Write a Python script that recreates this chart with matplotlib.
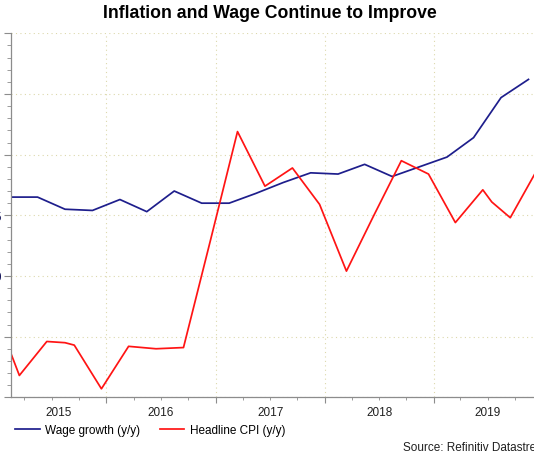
import matplotlib
matplotlib.use("Agg")
import matplotlib.pyplot as plt
import matplotlib.dates as mdates
import matplotlib.ticker as mticker
from matplotlib.lines import Line2D
import pandas as pd

plt.rcParams['font.family'] = ['Liberation Sans', 'DejaVu Sans']

# quarterly wage growth (y/y), mid-month
wage_months = ["2015-02", "2015-05", "2015-08", "2015-11",
               "2016-02", "2016-05", "2016-08", "2016-11",
               "2017-02", "2017-05", "2017-08", "2017-11",
               "2018-02", "2018-05", "2018-08", "2018-11",
               "2019-02", "2019-05", "2019-08", "2019-11"]
wage = [1.65, 1.65, 1.55, 1.54,
        1.63, 1.53, 1.70, 1.60,
        1.60, 1.68, 1.77, 1.85,
        1.84, 1.92, 1.82, 1.90,
        1.98, 2.14, 2.47, 2.62]

# headline CPI (y/y)
cpi_months = ["2015-02", "2015-03", "2015-06", "2015-08", "2015-09", "2015-12",
              "2016-03", "2016-06", "2016-09", "2016-12",
              "2017-03", "2017-06", "2017-09", "2017-12",
              "2018-03", "2018-06", "2018-09", "2018-12",
              "2019-03", "2019-06", "2019-07", "2019-09", "2019-12"]
cpi = [0.36, 0.18, 0.46, 0.45, 0.43, 0.07,
       0.42, 0.40, 0.41, 1.30,
       2.19, 1.74, 1.89, 1.59,
       1.04, 1.50, 1.95, 1.84,
       1.44, 1.71, 1.61, 1.48, 1.88]

years = [2015, 2016, 2017, 2018, 2019]

wage_dates = pd.to_datetime(wage_months) + pd.Timedelta(days=14)
cpi_dates = pd.to_datetime(cpi_months) + pd.Timedelta(days=14)

W, H = 534, 460
fig = plt.figure(figsize=(W / 100, H / 100), dpi=100)

xmin = wage_dates[0]
xmax = pd.Timestamp("2019-12-31")
px_per_day = 109 / 365.25
width_px = (xmax - xmin).days * px_per_day
ax = fig.add_axes([11 / W, (H - 398.3) / H, width_px / W, 364 / H])

blue = "#1e1e8c"
red = "#ff1414"
ax.plot(wage_dates, wage, color=blue, lw=1.25)
ax.plot(cpi_dates, cpi, color=red, lw=1.25)

ax.set_xlim(xmin, xmax)
ax.set_ylim(0, 3)

for s in ["top", "right"]:
    ax.spines[s].set_visible(False)
for s in ["left", "bottom"]:
    ax.spines[s].set_color("#8c8c8c")
    ax.spines[s].set_linewidth(0.9)

ax.yaxis.set_major_locator(mticker.MultipleLocator(0.5))
ax.yaxis.set_minor_locator(mticker.MultipleLocator(0.1))
ax.yaxis.set_major_formatter(mticker.FormatStrFormatter("%.1f"))
ax.tick_params(axis="y", which="major", length=5, color="#8c8c8c", pad=2,
               labelsize=8.5, labelcolor="#14145a")
ax.tick_params(axis="y", which="minor", length=3, color="#8c8c8c")

ax.xaxis.set_major_locator(mdates.YearLocator())
ax.xaxis.set_minor_locator(mdates.MonthLocator(bymonth=[4, 7, 10]))
ax.xaxis.set_major_formatter(mticker.NullFormatter())
ax.tick_params(axis="x", which="major", length=4, color="#8c8c8c")
ax.tick_params(axis="x", which="minor", length=2, color="#8c8c8c")

ax.grid(True, which="major", color="#dcd8ac", linestyle=(0, (1, 3)), lw=0.8)

for y in years:
    left = max(pd.Timestamp(f"{y}-01-01"), xmin)
    right = pd.Timestamp(f"{y + 1}-01-01")
    mid = left + (right - left) / 2
    ax.annotate(str(y), xy=(mdates.date2num(mid), 0),
                xycoords=("data", "axes fraction"),
                xytext=(0, -6), textcoords="offset points",
                ha="center", va="top", fontsize=8.5, color="#202020")

fig.text(270 / W, 1 - 14 / H, "Inflation and Wage Continue to Improve",
         ha="center", va="center", fontsize=12.7, fontweight="bold")

handles = [Line2D([], [], color=blue, lw=1.25), Line2D([], [], color=red, lw=1.25)]
fig.legend(handles, ["Wage growth (y/y)", "Headline CPI (y/y)"],
           loc="center left", bbox_to_anchor=(15 / W, 1 - 431 / H),
           ncol=2, frameon=False, fontsize=8.5, handlelength=2.1,
           handletextpad=0.45, columnspacing=1.65, borderpad=0, borderaxespad=0)

fig.text(403 / W, 1 - 448 / H, "Source: Refinitiv Datastream",
         ha="left", va="center", fontsize=8.5, color="#202020")

fig.savefig("out.png", dpi=100)
